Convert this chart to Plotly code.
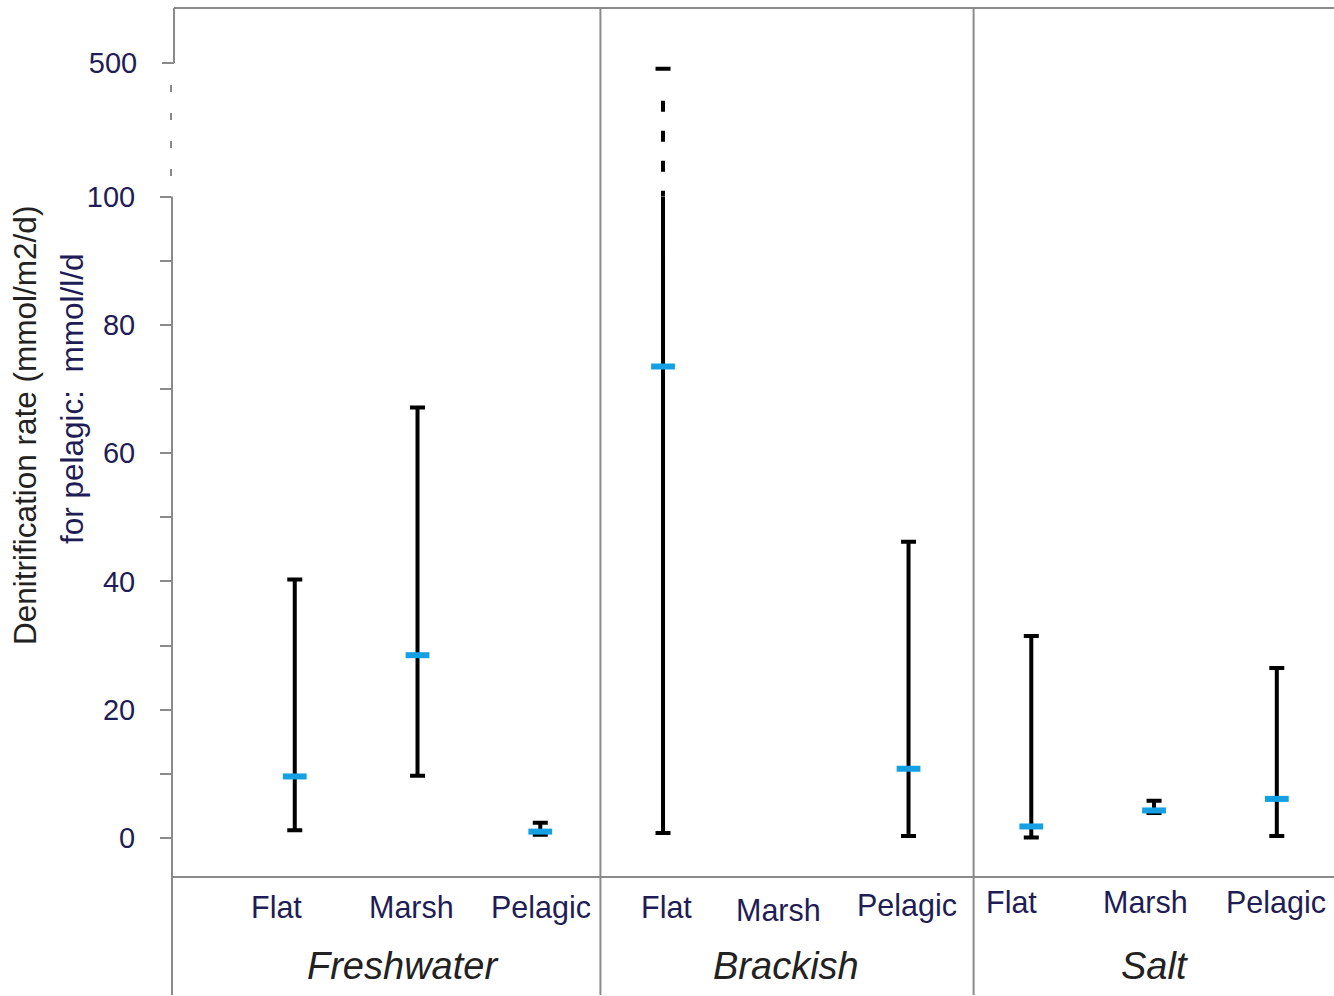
import plotly.graph_objects as go

# ---------------- data ----------------
groups = ["Freshwater", "Brackish", "Salt"]
categories = ["Flat", "Marsh", "Pelagic", "Flat", "Marsh", "Pelagic", "Flat", "Marsh", "Pelagic"]
means = [9.6, 28.5, 1.0, 73.5, None, 10.8, 1.8, 4.3, 6.1]
lows = [1.2, 9.7, 0.5, 0.8, None, 0.3, 0.1, 3.9, 0.3]
highs = [40.3, 67.1, 2.4, 483.0, None, 46.2, 31.5, 5.8, 26.5]
lower_ticks = [0, 10, 20, 30, 40, 50, 60, 70, 80, 90, 100]
lower_ticktext = ["0", "", "20", "", "40", "", "60", "", "80", "", "100"]
upper_ticks = [500]
upper_ticktext = ["500"]
BREAK = 100  # axis break value

# ---------------- style ----------------
W, H = 1334, 996
ML, MR, MT, MB = 172, 0, 8, 120
PLOT_W = W - ML - MR
PLOT_H = H - MT - MB
GREY = "#8a8a8a"
NAVY = "#1f1d55"
DARK = "#222222"
BLUE = "#14a0e2"
FONT = "Liberation Sans, Arial, sans-serif"

# per-label text offsets (px) to mimic the original label placement
label_xshift = [-18, -6, 1, 3, -7, -2, -20, -9, -1]
label_yshift = [0, 0, 0, 0, -3, 2, 5, 5, 5]
group_xshift = [-15, 0, 0]

xpos = list(range(1, len(categories) + 1))
x_max = 9.466
lower_range = [-5.92, BREAK]
dom_split = (876 - 196.5) / PLOT_H
upper_range = [BREAK, 664.8]

err_plus = [None if m is None else h - m for m, h in zip(means, highs)]
err_minus = [None if m is None else m - l for m, l in zip(means, lows)]

fig = go.Figure()

# main error bars + means on the lower (0-100) axis
fig.add_trace(go.Scatter(
    x=xpos, y=means, mode="markers",
    marker=dict(symbol="line-ew", size=17, color=BLUE, line=dict(color=BLUE, width=6)),
    error_y=dict(type="data", symmetric=False, array=err_plus, arrayminus=err_minus,
                 color="black", thickness=4, width=7.5),
    xaxis="x", yaxis="y", showlegend=False, hoverinfo="skip", cliponaxis=True,
))

# continuation of whiskers above the break (dashed) on the upper axis
for x, h in zip(xpos, highs):
    if h is not None and h > BREAK:
        fig.add_trace(go.Scatter(
            x=[x, x], y=[h, BREAK], mode="lines",
            line=dict(color="black", width=4,
                      dash="0px,32px,11px,19px,11px,19px,11px,19px,11px,19px,11px,19px"),
            xaxis="x", yaxis="y2", showlegend=False, hoverinfo="skip",
        ))
        # whisker cap (zero-length error bar -> same cap as the other whiskers)
        fig.add_trace(go.Scatter(
            x=[x], y=[h], mode="markers",
            marker=dict(size=1, color="rgba(0,0,0,0)"),
            error_y=dict(type="data", array=[0], color="black", thickness=4, width=7.5),
            xaxis="x", yaxis="y2", showlegend=False, hoverinfo="skip", cliponaxis=False,
        ))

shapes = []
line_style = dict(color=GREY, width=2)
# top border
shapes.append(dict(type="line", xref="paper", yref="paper", x0=2 / PLOT_W, x1=1, y0=1, y1=1, line=line_style))
# upper axis line (500 to top)
shapes.append(dict(type="line", xref="paper", yref="y2", x0=2 / PLOT_W, x1=2 / PLOT_W,
                   y0=upper_ticks[0], y1=upper_range[1], line=line_style))
# dashed break segment
shapes.append(dict(type="line", xref="paper", yref="y2", x0=-1 / PLOT_W, x1=-1 / PLOT_W,
                   y0=upper_ticks[0], y1=BREAK,
                   line=dict(color=GREY, width=2, dash="0px,22px,7px,21px,7px,21px,7px,21px,7px,40px")))
# lower axis line (100 down to bottom of category area)
shapes.append(dict(type="line", xref="paper", yref="paper", x0=0, x1=0, y0=-0.137, y1=dom_split, line=line_style))
# group separators
for sx in [3.49, 6.53]:
    shapes.append(dict(type="line", xref="x", yref="paper", x0=sx, x1=sx, y0=-0.137, y1=1, line=line_style))

annotations = []
# category labels
for c, x, dx, dy in zip(categories, xpos, label_xshift, label_yshift):
    annotations.append(dict(text=c, x=x, y=-(907 - 876) / PLOT_H, xref="x", yref="paper",
                            showarrow=False, xshift=dx, yshift=dy, yanchor="middle",
                            font=dict(family=FONT, size=30.5, color=NAVY)))
# group labels
for i, (g, xs) in enumerate(zip(groups, group_xshift)):
    gx = sum(xpos[3 * i:3 * i + 3]) / 3
    annotations.append(dict(text=g, x=gx, y=-(966 - 876) / PLOT_H, xref="x", yref="paper",
                            showarrow=False, xshift=xs, yanchor="middle",
                            font=dict(family=FONT, size=38, color=DARK, style="italic")))
annotations.append(dict(text="Denitrification rate (mmol/m2/d)", textangle=-90,
                        x=(25 - ML) / PLOT_W, y=(876 - 426) / PLOT_H, xref="paper", yref="paper",
                        showarrow=False, xanchor="center", yanchor="middle",
                        font=dict(family=FONT, size=31.5, color=DARK)))
annotations.append(dict(text="for pelagic:  mmol/l/d", textangle=-90,
                        x=(72 - ML) / PLOT_W, y=(876 - 399) / PLOT_H, xref="paper", yref="paper",
                        showarrow=False, xanchor="center", yanchor="middle",
                        font=dict(family=FONT, size=31.5, color=NAVY)))

fig.update_layout(
    width=W, height=H,
    margin=dict(l=ML, r=MR, t=MT, b=MB, pad=0, autoexpand=False),
    paper_bgcolor="white", plot_bgcolor="white",
    showlegend=False,
    xaxis=dict(range=[0, x_max], tickmode="array", tickvals=xpos, ticktext=categories,
               showticklabels=False, ticks="", showgrid=False, zeroline=False,
               showline=True, linecolor=GREY, linewidth=2,
               anchor="y", automargin=False, fixedrange=True),
    yaxis=dict(domain=[0, dom_split], range=lower_range, tickmode="array",
               tickvals=lower_ticks, ticktext=lower_ticktext,
               ticks="outside", ticklen=11, tickwidth=2, tickcolor=GREY,
               showgrid=False, zeroline=False, showline=False,
               tickfont=dict(family=FONT, size=29, color=NAVY), ticklabelstandoff=19,
               anchor="x", automargin=False, fixedrange=True),
    yaxis2=dict(domain=[dom_split, 1], range=upper_range, tickmode="array",
                tickvals=upper_ticks, ticktext=upper_ticktext,
                ticks="outside", ticklen=12, tickwidth=2, tickcolor=GREY,
                showgrid=False, zeroline=False, showline=False,
                tickfont=dict(family=FONT, size=29, color=NAVY), ticklabelstandoff=19,
                anchor="free", position=2 / PLOT_W, automargin=False, fixedrange=True),
    shapes=shapes,
    annotations=annotations,
)

fig.write_html("out.html", config={"displayModeBar": False},
               post_script="document.body.style.margin='0px';document.body.style.overflow='hidden';")
